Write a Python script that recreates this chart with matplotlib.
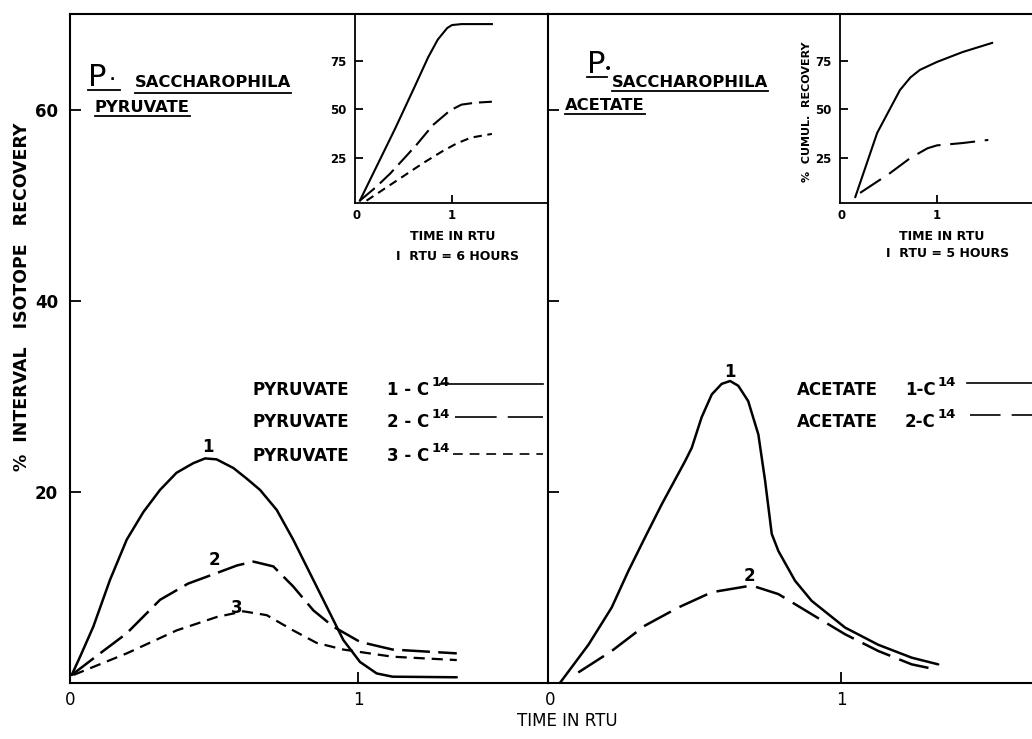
import matplotlib
matplotlib.use('Agg')
import matplotlib.pyplot as plt
from matplotlib.lines import Line2D

plt.rcParams['font.family'] = ['Liberation Sans Narrow', 'DejaVu Sans']
plt.rcParams['lines.scale_dashes'] = False

# ---------------- data ----------------
# Left main panel: pyruvate, % interval isotope recovery vs time (RTU)
pyr1_t = [0.006, 0.035, 0.081, 0.139, 0.197, 0.255, 0.3125, 0.37, 0.428, 0.469, 0.509,
          0.567, 0.613, 0.66, 0.718, 0.775, 0.833, 0.891, 0.949, 1.007, 1.065, 1.12, 1.343]
pyr1_y = [0.84, 2.75, 5.9, 10.8, 15.0, 17.9, 20.2, 22.0, 23.0, 23.5, 23.4,
          22.5, 21.4, 20.2, 18.1, 15.0, 11.5, 8.0, 4.5, 2.2, 1.0, 0.66, 0.6]
pyr2_t = [0.006, 0.1, 0.197, 0.3125, 0.41, 0.509, 0.58, 0.637, 0.706, 0.775, 0.845,
          0.914, 1.007, 1.12, 1.343]
pyr2_y = [0.84, 3.0, 5.2, 8.7, 10.4, 11.5, 12.3, 12.7, 12.2, 10.1, 7.6,
          5.9, 4.3, 3.5, 3.1]
pyr3_t = [0.012, 0.197, 0.37, 0.509, 0.602, 0.683, 0.775, 0.856, 0.949, 1.12, 1.343]
pyr3_y = [0.84, 3.1, 5.5, 6.9, 7.5, 7.1, 5.5, 4.2, 3.5, 2.75, 2.4]

# Right main panel: acetate
ace1_t = [0.034, 0.132, 0.212, 0.269, 0.326, 0.384, 0.464, 0.487, 0.521, 0.556, 0.59,
          0.619, 0.647, 0.681, 0.716, 0.739, 0.762, 0.785, 0.842, 0.899, 1.014, 1.128,
          1.243, 1.334]
ace1_y = [0.0, 4.0, 7.9, 11.7, 15.2, 18.7, 23.2, 24.6, 27.8, 30.2, 31.3,
          31.6, 31.1, 29.5, 26.0, 21.2, 15.6, 13.8, 10.7, 8.6, 5.8, 4.0,
          2.65, 1.95]
ace2_t = [0.097, 0.212, 0.326, 0.441, 0.556, 0.693, 0.785, 0.899, 1.014, 1.128, 1.243, 1.329]
ace2_y = [1.1, 3.35, 6.0, 7.9, 9.5, 10.2, 9.3, 7.2, 5.1, 3.35, 1.95, 1.4]

# Insets: % cumulative recovery
pyr_in_t1 = [0.03, 0.2, 0.4, 0.6, 0.75, 0.85, 0.95, 1.0, 1.1, 1.42]
pyr_in_y1 = [3.0, 20.0, 40.0, 61.0, 77.0, 86.0, 92.0, 93.5, 94.0, 94.0]
pyr_in_t2 = [0.03, 0.2, 0.35, 0.5, 0.63, 0.8, 0.98, 1.1, 1.25, 1.42]
pyr_in_y2 = [3.0, 10.0, 17.0, 25.0, 32.0, 42.0, 49.5, 52.5, 53.5, 54.0]
pyr_in_t3 = [0.1, 0.3, 0.5, 0.7, 0.9, 1.05, 1.2, 1.42]
pyr_in_y3 = [3.0, 9.5, 16.0, 22.5, 28.5, 32.5, 35.5, 37.4]

ace_in_t1 = [0.14, 0.37, 0.61, 0.72, 0.82, 1.0, 1.27, 1.58]
ace_in_y1 = [4.9, 37.9, 60.0, 66.5, 70.4, 74.5, 79.6, 84.3]
ace_in_t2 = [0.19, 0.5, 0.72, 0.9, 1.0, 1.27, 1.54]
ace_in_y2 = [7.0, 17.0, 25.0, 30.0, 31.5, 32.7, 34.3]

main_yticks = [20, 40, 60]
main_yticklabels = ['20', '40', '60']
main_xticks = [0, 1]
main_xticklabels = ['0', '1']
inset_yticks = [25, 50, 75]
inset_yticklabels = ['25', '50', '75']
inset_xticks = [0, 1]
inset_xticklabels = ['0', '1']

legend_left = [('PYRUVATE', '1 - C', '14'), ('PYRUVATE', '2 - C', '14'), ('PYRUVATE', '3 - C', '14')]
legend_right = [('ACETATE', '1-C', '14'), ('ACETATE', '2-C', '14')]

# ---------------- figure ----------------
W, H = 1032, 739
fig = plt.figure(figsize=(W / 100, H / 100), dpi=100)
fig.patch.set_facecolor('white')


def fx(px):
    return px / W


def fy(py):
    return 1 - py / H


def rect(x0, y0, x1, y1):
    # pixel box (top-left origin) -> figure fraction rect
    return [fx(x0), fy(y1), fx(x1) - fx(x0), fy(y0) - fy(y1)]


LW_AX = 1.5
FONT_B = dict(fontweight='bold')

axL = fig.add_axes(rect(70, 14, 548, 683))
axR = fig.add_axes(rect(548, 14, 1040, 683))

for ax in (axL, axR):
    ax.set_ylim(0, 70)
    for s in ('left', 'bottom', 'top'):
        ax.spines[s].set_linewidth(LW_AX)
    ax.spines['right'].set_visible(False)
    ax.set_yticks(main_yticks)
    ax.set_xticks(main_xticks)
    ax.tick_params(direction='in', length=8, width=1.3, labelsize=12)

axL.set_xlim(0, (548 - 70) / 288)
axR.set_xlim(-2 / 291, (1040 - 550) / 291)
axL.set_yticklabels(main_yticklabels, fontsize=12, **FONT_B)
axL.tick_params(axis='y', pad=8.6)
axL.set_xticklabels(main_xticklabels, fontsize=12)
axL.tick_params(axis='x', pad=5.5)
axR.set_yticklabels([])
axR.set_xticklabels(main_xticklabels, fontsize=12)
axR.tick_params(axis='x', pad=5.5)
for ax in (axL, axR):
    ax.xaxis.get_major_ticks()[0].tick1line.set_visible(False)

LWc = 1.8
axL.plot(pyr1_t, pyr1_y, color='black', lw=LWc, solid_capstyle='round')
axL.plot(pyr2_t, pyr2_y, color='black', lw=LWc, dashes=(20, 6))
axL.plot(pyr3_t, pyr3_y, color='black', lw=LWc * 0.9, dashes=(8, 5))
axR.plot(ace1_t, ace1_y, color='black', lw=LWc, solid_capstyle='round')
axR.plot(ace2_t, ace2_y, color='black', lw=LWc, dashes=(22, 7))

# peak labels
axL.text(0.479, 24.7, '1', ha='center', va='center', fontsize=12, **FONT_B)
axL.text(0.503, 12.9, '2', ha='center', va='center', fontsize=12, **FONT_B)
axL.text(0.58, 7.85, '3', ha='center', va='center', fontsize=12, **FONT_B)
axR.text(0.619, 32.5, '1', ha='center', va='center', fontsize=12, **FONT_B)
axR.text(0.687, 11.2, '2', ha='center', va='center', fontsize=12, **FONT_B)

# ---------------- insets ----------------
insL = fig.add_axes(rect(355, 14, 548, 203))
insR = fig.add_axes(rect(840, 14, 1040, 203))
for ins in (insL, insR):
    ins.set_facecolor('none')
    ins.set_ylim(1.8, 99.2)
    for s in ('top', 'right'):
        ins.spines[s].set_visible(False)
    for s in ('left', 'bottom'):
        ins.spines[s].set_linewidth(1.3)
    ins.set_yticks(inset_yticks)
    ins.set_yticklabels(inset_yticklabels, fontsize=8.5, **FONT_B)
    ins.set_xticks(inset_xticks)
    ins.set_xticklabels(inset_xticklabels, fontsize=8.5, **FONT_B)
    ins.tick_params(direction='in', length=6, width=1.3, pad=6)
    ins.tick_params(axis='x', pad=4)
    ins.xaxis.get_major_ticks()[0].tick1line.set_visible(False)
insL.set_xlim(-2 / 95, (548 - 357) / 95)
insR.set_xlim(-2 / 95, (1040 - 842) / 95)

insL.plot(pyr_in_t1, pyr_in_y1, color='black', lw=1.5)
insL.plot(pyr_in_t2, pyr_in_y2, color='black', lw=1.5, dashes=(14, 5))
insL.plot(pyr_in_t3, pyr_in_y3, color='black', lw=1.5, dashes=(6, 4))
insR.plot(ace_in_t1, ace_in_y1, color='black', lw=1.5)
insR.plot(ace_in_t2, ace_in_y2, color='black', lw=1.5, dashes=(18, 7))

fig.text(fx(453), fy(237), 'TIME IN RTU', ha='center', va='center', fontsize=9, **FONT_B)
fig.text(fx(457), fy(256), 'I  RTU = 6 HOURS', ha='center', va='center', fontsize=9, **FONT_B)
fig.text(fx(942), fy(237), 'TIME IN RTU', ha='center', va='center', fontsize=9, **FONT_B)
fig.text(fx(948), fy(254), 'I  RTU = 5 HOURS', ha='center', va='center', fontsize=9, **FONT_B)
fig.text(fx(807), fy(112), '%  CUMUL.  RECOVERY', ha='center', va='center', rotation=90,
         fontsize=8, **FONT_B)

# ---------------- axis labels ----------------
fig.text(fx(22), fy(297), '%  INTERVAL   ISOTOPE   RECOVERY', ha='center', va='center',
         rotation=90, fontsize=12.5, **FONT_B)
fig.text(fx(567), fy(721), 'TIME IN RTU', ha='center', va='center', fontsize=12)

# ---------------- titles with underlines ----------------
renderer = fig.canvas.get_renderer()


def underline(t, y_px, lw=1.3, x_extra=0):
    bb = t.get_window_extent(renderer)
    fig.add_artist(Line2D([bb.x0 / W, (bb.x1 + x_extra) / W], [fy(y_px), fy(y_px)],
                          transform=fig.transFigure, color='black', lw=lw))


tP = fig.text(fx(88), fy(86), 'P', ha='left', va='baseline', fontsize=22)
fig.text(fx(110), fy(80), '.', ha='left', va='baseline', fontsize=10, **FONT_B)
underline(tP, 90, x_extra=14)
t1 = fig.text(fx(135), fy(87), 'SACCHAROPHILA', ha='left', va='baseline', fontsize=11.8, **FONT_B)
underline(t1, 93)
t2 = fig.text(fx(95), fy(112), 'PYRUVATE', ha='left', va='baseline', fontsize=11.8, **FONT_B)
underline(t2, 116)

tP2 = fig.text(fx(587), fy(73), 'P', ha='left', va='baseline', fontsize=22)
fig.text(fx(604), fy(73), '\u2022', ha='left', va='baseline', fontsize=10)
underline(tP2, 77, x_extra=2)
t3 = fig.text(fx(612), fy(87), 'SACCHAROPHILA', ha='left', va='baseline', fontsize=11.8, **FONT_B)
underline(t3, 91)
t4 = fig.text(fx(565), fy(110), 'ACETATE', ha='left', va='baseline', fontsize=11.8, **FONT_B)
underline(t4, 114)

# ---------------- legends ----------------


def legend_row(name_x, y_base, name, code_x, code, sup, line_x0, line_x1, line_y, dashes):
    fig.text(fx(name_x), fy(y_base), name, ha='left', va='baseline', fontsize=12, **FONT_B)
    tc = fig.text(fx(code_x), fy(y_base), code, ha='left', va='baseline', fontsize=12, **FONT_B)
    bb = tc.get_window_extent(renderer)
    fig.text((bb.x1 + 2) / W, fy(y_base - 9), sup, ha='left', va='baseline', fontsize=9.5, **FONT_B)
    ln = Line2D([fx(line_x0), fx(line_x1)], [fy(line_y), fy(line_y)], transform=fig.transFigure,
                color='black', lw=1.2)
    if dashes is not None:
        ln.set_dashes(dashes)
    fig.add_artist(ln)


left_styles = [None, (30, 8), (7, 5)]
left_rows = [(395, 440, 384), (427, 455, 417), (461, 453, 454)]
for (name, code, sup), st, (yb, lx0, ly) in zip(legend_left, left_styles, left_rows):
    legend_row(253, yb, name, 387, code, sup, lx0, 543, ly, st)

right_styles = [None, (22, 8)]
right_rows = [(395, 967, 383), (427, 970, 415)]
for (name, code, sup), st, (yb, lx0, ly) in zip(legend_right, right_styles, right_rows):
    legend_row(797, yb, name, 905, code, sup, lx0, 1032, ly, st)

fig.savefig('out.png', dpi=100, facecolor='white')
